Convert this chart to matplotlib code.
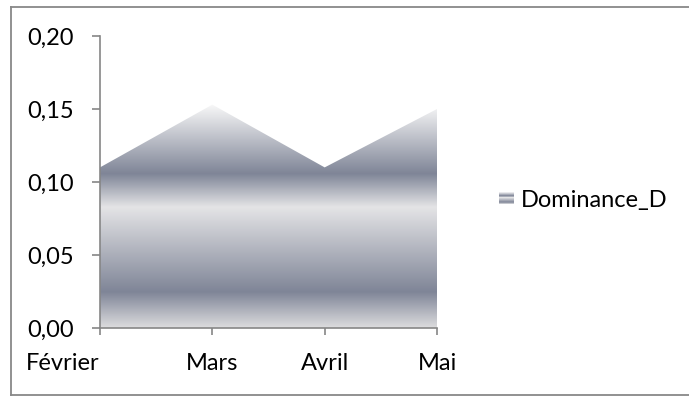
import numpy as np
import matplotlib
matplotlib.use('Agg')
import matplotlib.pyplot as plt
from matplotlib.colors import LinearSegmentedColormap
from matplotlib.patches import Rectangle
from matplotlib.lines import Line2D
from matplotlib.legend_handler import HandlerBase
from matplotlib.ticker import FuncFormatter

# Données
mois = ['Février', 'Mars', 'Avril', 'Mai']
dominance = [0.11, 0.153, 0.11, 0.15]
serie = 'Dominance_D'

plt.rcParams['font.family'] = ['Lato', 'DejaVu Sans']
taille = 17

W, H = 689, 396
fig = plt.figure(figsize=(W / 100, H / 100), dpi=100)
ax = fig.add_axes([100 / W, 1 - 328 / H, 337 / W, 292 / H])

# dégradé "chrome" (bas -> haut)
grad = LinearSegmentedColormap.from_list('chrome', [
    (0.00, '#dcdcde'),
    (0.16, '#7f8597'),
    (0.54, '#e4e4e6'),
    (0.69, '#7f8597'),
    (1.00, '#f8f8f8'),
])

x = np.arange(len(mois))
y = np.array(dominance)
poly = ax.fill_between(x, 0, y, facecolor='none', edgecolor='none')
img = ax.imshow(np.linspace(0, 1, 256).reshape(-1, 1), cmap=grad, origin='lower',
                aspect='auto', extent=[x[0], x[-1], 0, y.max()], interpolation='bilinear')
img.set_clip_path(poly.get_paths()[0], transform=ax.transData)

ax.set_xlim(x[0], x[-1])
ax.set_ylim(0, 0.20)
ax.set_yticks([0, 0.05, 0.10, 0.15, 0.20])
ax.yaxis.set_major_formatter(FuncFormatter(lambda v, p: f'{v:.2f}'.replace('.', ',')))
ax.set_xticks(x)
ax.set_xticklabels(mois)
# la première étiquette est calée à gauche du repère
ax.get_xticklabels()[0].set_horizontalalignment('right')

for s in ['top', 'right']:
    ax.spines[s].set_visible(False)
for s in ['left', 'bottom']:
    ax.spines[s].set_color('#868686')
    ax.spines[s].set_linewidth(1.2)
ax.tick_params(axis='y', length=6, width=1.2, color='#868686', pad=13, labelsize=taille)
ax.tick_params(axis='x', length=5, width=1.2, color='#868686', pad=13, labelsize=taille)


class HandlerGradient(HandlerBase):
    def create_artists(self, legend, orig_handle, xdescent, ydescent,
                       width, height, fontsize, trans):
        n = 12
        bandes = []
        for i in range(n):
            r = Rectangle((-xdescent, -ydescent + i * height / n), width, height / n,
                          facecolor=grad((i + 0.5) / n), edgecolor='none', transform=trans)
            bandes.append(r)
        return bandes


proxy = Rectangle((0, 0), 1, 1)
fig.legend([proxy], [serie], handler_map={Rectangle: HandlerGradient()},
           loc='center left', bbox_to_anchor=(499 / W, 1 - 200 / H), frameon=False,
           fontsize=taille, handlelength=0.62, handleheight=0.35, handletextpad=0.3,
           borderpad=0, borderaxespad=0)

# cadre du graphique
bord = '#888888'
fig.add_artist(Line2D([10.5 / W, 1], [1 - 6.5 / H] * 2, color=bord, lw=1.3))
fig.add_artist(Line2D([10.5 / W, 1], [1 - 394.5 / H] * 2, color=bord, lw=1.3))
fig.add_artist(Line2D([10.5 / W] * 2, [1 - 6.5 / H, 1 - 394.5 / H], color=bord, lw=1.3))

fig.savefig('out.png', dpi=100)
